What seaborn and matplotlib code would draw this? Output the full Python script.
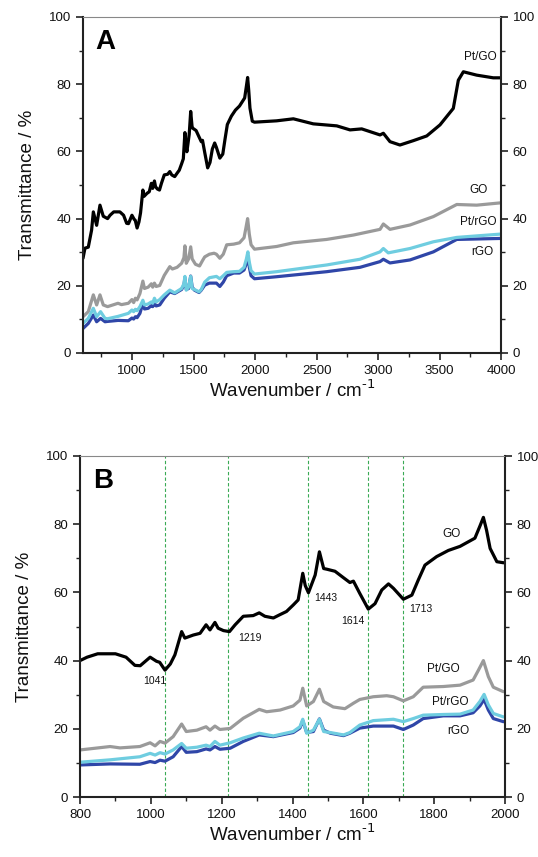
import matplotlib
matplotlib.use("Agg")
import matplotlib.pyplot as plt
import seaborn as sns
import pandas as pd
from matplotlib.ticker import MultipleLocator

# --- data (wavenumber cm-1, transmittance %) ---
black_wn = [600, 616, 643, 670, 684, 711, 738, 765, 800, 820, 850, 900, 930, 955, 970,
            998, 1016, 1025, 1040, 1055, 1068, 1087, 1096, 1120, 1139, 1156, 1167, 1181,
            1190, 1205, 1222, 1238, 1261, 1289, 1306, 1322, 1346, 1365, 1383, 1402, 1416,
            1429, 1436, 1445, 1464, 1476, 1488, 1497, 1520, 1544, 1562, 1572, 1590, 1614,
            1633, 1652, 1671, 1685, 1713, 1737, 1755, 1774, 1807, 1840, 1873, 1915, 1929,
            1939, 1948, 1958, 1977, 1995, 2040, 2175, 2311, 2473, 2664, 2772, 2867, 3016,
            3043, 3097, 3178, 3287, 3396, 3504, 3612, 3653, 3694, 3802, 3937, 4000]
black_t = [28.2, 31.2, 31.5, 36.6, 42.0, 38.0, 44.0, 40.7, 40.0, 41.0, 42.0, 42.0, 41.0,
           38.6, 38.5, 41.0, 39.8, 39.5, 37.2, 39.0, 41.7, 48.5, 46.6, 47.5, 48.0, 50.5,
           49.0, 51.2, 49.5, 48.8, 48.5, 50.5, 53.0, 53.2, 54.0, 53.0, 52.5, 53.5, 54.4,
           56.3, 57.8, 65.6, 62.0, 59.9, 65.1, 71.9, 67.0, 66.8, 66.2, 64.3, 62.9, 63.3,
           59.7, 55.1, 56.7, 60.7, 62.5, 61.2, 58.0, 59.2, 63.6, 68.0, 70.5, 72.3, 73.5,
           75.9, 79.4, 82.0, 78.2, 72.9, 69.0, 68.7, 68.8, 69.1, 69.7, 68.2, 67.6, 66.4,
           66.7, 64.9, 65.4, 62.9, 61.9, 63.2, 64.6, 67.9, 72.8, 81.2, 83.7, 82.7, 81.9, 81.9]

gray_wn = [600, 643, 684, 711, 738, 765, 800, 885, 913, 969, 998, 1012, 1026, 1040, 1063,
           1087, 1100, 1130, 1156, 1167, 1181, 1195, 1224, 1261, 1306, 1327, 1365, 1402,
           1421, 1429, 1440, 1459, 1476, 1488, 1515, 1548, 1572, 1590, 1628, 1666, 1685,
           1713, 1741, 1769, 1826, 1873, 1910, 1925, 1939, 1953, 1967, 1995, 2175, 2311,
           2582, 2799, 3016, 3043, 3097, 3260, 3450, 3640, 3802, 4000]
gray_t = [10.8, 12.3, 17.3, 14.3, 17.3, 14.3, 13.8, 14.8, 14.4, 14.8, 15.9, 15.0, 16.3,
          15.8, 17.7, 21.4, 19.2, 19.6, 20.6, 19.6, 20.8, 19.8, 20.1, 23.1, 25.7, 25.0,
          25.5, 26.7, 28.4, 31.9, 26.7, 28.0, 31.6, 28.0, 26.4, 25.9, 27.5, 28.6, 29.4,
          29.7, 29.4, 28.2, 29.4, 32.2, 32.4, 32.8, 34.3, 37.2, 40.0, 35.3, 32.2, 30.9,
          31.7, 32.8, 33.8, 35.1, 36.8, 38.4, 36.8, 38.1, 40.6, 44.2, 44.0, 44.7]

cyan_wn = [600, 643, 684, 711, 743, 779, 800, 885, 969, 998, 1012, 1026, 1040, 1063, 1087,
           1100, 1130, 1156, 1167, 1181, 1195, 1224, 1261, 1306, 1346, 1402, 1421, 1429,
           1440, 1459, 1476, 1488, 1507, 1544, 1562, 1590, 1628, 1685, 1713, 1741, 1769,
           1826, 1873, 1910, 1929, 1941, 1953, 1967, 1995, 2175, 2582, 2853, 3016, 3043,
           3083, 3260, 3450, 3640, 4000]
cyan_t = [8.8, 10.3, 13.3, 10.8, 12.3, 10.3, 10.2, 10.9, 11.8, 12.8, 12.3, 13.0, 12.6,
          13.8, 15.7, 14.3, 14.6, 15.2, 14.8, 16.3, 15.2, 15.9, 17.3, 18.7, 17.9, 19.2,
          20.6, 22.8, 18.7, 19.6, 22.8, 19.2, 18.9, 18.2, 18.9, 21.1, 22.4, 22.8, 22.1,
          23.0, 24.0, 24.2, 24.3, 25.5, 28.0, 30.1, 27.0, 24.5, 23.5, 24.2, 26.2, 27.9,
          30.1, 31.1, 29.8, 31.1, 33.1, 34.4, 35.4]

blue_wn = [600, 643, 684, 711, 743, 779, 800, 885, 969, 998, 1012, 1026, 1040, 1063, 1087,
           1100, 1130, 1156, 1167, 1181, 1195, 1224, 1261, 1306, 1346, 1402, 1421, 1429,
           1440, 1459, 1476, 1488, 1507, 1544, 1562, 1590, 1628, 1685, 1713, 1741, 1769,
           1826, 1873, 1910, 1929, 1941, 1953, 1967, 1995, 2175, 2582, 2853, 3016, 3043,
           3097, 3260, 3450, 3640, 4000]
blue_t = [7.3, 8.8, 11.3, 9.3, 10.3, 9.3, 9.4, 9.7, 9.6, 10.4, 10.1, 10.8, 10.5, 11.8,
          14.8, 13.1, 13.3, 14.1, 13.8, 14.8, 14.0, 14.3, 16.3, 18.2, 17.7, 18.9, 20.2,
          22.4, 18.9, 19.2, 22.9, 19.6, 18.7, 18.0, 18.7, 20.2, 20.8, 20.8, 19.8, 21.1,
          23.0, 23.8, 23.8, 24.7, 26.7, 28.6, 25.5, 23.0, 22.1, 22.7, 24.2, 25.5, 27.2,
          27.9, 26.8, 27.7, 30.1, 33.8, 34.1]

series_order = ["gray", "blue", "cyan", "black"]
colors = {"black": "#000000", "gray": "#9a9a9a", "cyan": "#6fcde0", "blue": "#2f46a8"}

# curve labels differ between the two panels
labels_a = {"black": "Pt/GO", "gray": "GO", "cyan": "Pt/rGO", "blue": "rGO"}
labels_b = {"black": "GO", "gray": "Pt/GO", "cyan": "Pt/rGO", "blue": "rGO"}
label_pos_a = {"black": (3830, 88), "gray": (3815, 48.5), "cyan": (3815, 39), "blue": (3845, 30)}
label_pos_b = {"black": (1850, 77), "gray": (1825, 37.5), "cyan": (1845, 28), "blue": (1867, 19.5)}

peaks = [1041, 1219, 1443, 1614, 1713]
peak_label_pos = [(1012, 34), (1280, 46.5), (1495, 58.5), (1571, 51.5), (1763, 55)]

frames = []
for name, wn, t in [("black", black_wn, black_t), ("gray", gray_wn, gray_t),
                    ("cyan", cyan_wn, cyan_t), ("blue", blue_wn, blue_t)]:
    frames.append(pd.DataFrame({"wn": wn, "T": t, "series": name}))
df = pd.concat(frames, ignore_index=True)
df["series"] = pd.Categorical(df["series"], categories=series_order, ordered=True)
df = df.sort_values(["series", "wn"])

sns.set_style("ticks")
plt.rcParams["font.family"] = ["Liberation Sans", "DejaVu Sans"]
plt.rcParams.update({"text.color": "#111111", "axes.labelcolor": "#111111",
                     "xtick.color": "#222222", "ytick.color": "#222222",
                     "xtick.labelcolor": "#111111", "ytick.labelcolor": "#111111"})

fig = plt.figure(figsize=(5.38, 8.57), dpi=100)
ax_a = fig.add_axes([83 / 538, 1 - 353 / 857, 418 / 538, 336 / 857])
ax_b = fig.add_axes([80 / 538, 1 - 797 / 857, 425 / 538, 341 / 857])


def style_axis(ax, xlim, xmajor, xminor, letter):
    ax.set_xlim(*xlim)
    ax.set_ylim(0, 100)
    ax.xaxis.set_major_locator(MultipleLocator(xmajor))
    ax.xaxis.set_minor_locator(MultipleLocator(xminor))
    ax.yaxis.set_major_locator(MultipleLocator(20))
    ax.yaxis.set_minor_locator(MultipleLocator(10))
    ax.tick_params(which="major", direction="out", length=5, width=1.2, labelsize=9.5)
    ax.tick_params(which="minor", direction="out", length=3, width=1.0)
    for side in ["left", "right", "bottom"]:
        ax.spines[side].set_linewidth(1.5)
        ax.spines[side].set_color("#222222")
    ax.spines["top"].set_linewidth(0.8)
    ax.spines["top"].set_color("#888888")
    ax.set_xlabel(r"Wavenumber / cm$^{\text{-1}}$", fontsize=13.5, labelpad=2)
    ax.set_ylabel("Transmittance / %", fontsize=13.5, labelpad=9)
    ax.text(0.03, 0.965, letter, transform=ax.transAxes, fontsize=20, fontweight="bold",
            va="top", ha="left", color="black")
    # mirrored right axis
    ax2 = ax.twinx()
    ax2.set_ylim(0, 100)
    ax2.yaxis.set_major_locator(MultipleLocator(20))
    ax2.yaxis.set_minor_locator(MultipleLocator(10))
    ax2.tick_params(which="major", direction="out", length=5, width=1.2, labelsize=9.5)
    ax2.tick_params(which="minor", direction="out", length=3, width=1.0)
    for sp in ax2.spines.values():
        sp.set_visible(False)
    ax2.grid(False)
    return ax2


# Panel A
sns.lineplot(data=df, x="wn", y="T", hue="series", palette=colors, hue_order=series_order,
             estimator=None, sort=False, linewidth=2.3, legend=False, ax=ax_a)
style_axis(ax_a, (600, 4000), 500, 250, "A")
for name, (tx, ty) in label_pos_a.items():
    ax_a.text(tx, ty, labels_a[name], fontsize=8.5, ha="center", va="center")

# Panel B
for p in peaks:
    ax_b.axvline(p, color="#3aaa55", linestyle=(0, (3, 2)), linewidth=0.8, zorder=0)
sns.lineplot(data=df, x="wn", y="T", hue="series", palette=colors, hue_order=series_order,
             estimator=None, sort=False, linewidth=2.3, legend=False, ax=ax_b)
style_axis(ax_b, (800, 2000), 200, 100, "B")
for name, (tx, ty) in label_pos_b.items():
    ax_b.text(tx, ty, labels_b[name], fontsize=8.5, ha="center", va="center")
for p, (tx, ty) in zip(peaks, peak_label_pos):
    ax_b.text(tx, ty, str(p), fontsize=7.5, ha="center", va="center")

fig.savefig("out.png", dpi=100)
